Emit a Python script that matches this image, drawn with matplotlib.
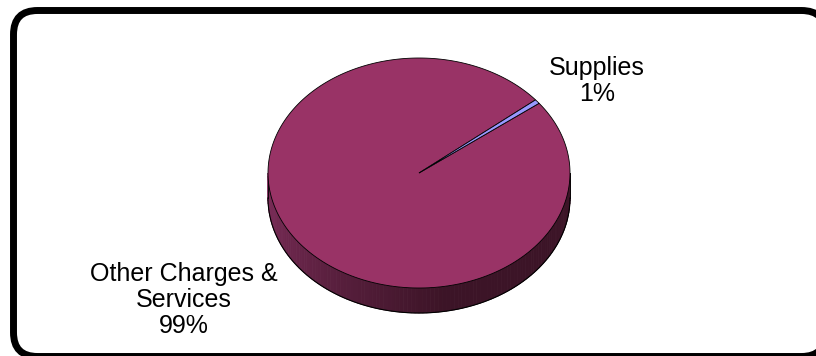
import matplotlib
matplotlib.use("Agg")
import matplotlib.pyplot as plt
import numpy as np
from matplotlib.patches import Polygon, FancyBboxPatch

plt.rcParams['font.family'] = ['Liberation Sans', 'DejaVu Sans']

# data
labels = ["Other Charges &\nServices", "Supplies"]
values = [99.4, 0.6]
colors = ["#993366", "#9999FF"]

fig = plt.figure(figsize=(8.16, 3.56), dpi=100)
ax = fig.add_axes([0, 0, 1, 1])
ax.set_xlim(0, 816)
ax.set_ylim(356, 0)
ax.axis("off")

# rounded frame (runs off the right/bottom edge)
frame = FancyBboxPatch((13.5, 10.5), 812, 346, boxstyle="round,pad=0,rounding_size=24",
                       fc="white", ec="black", lw=5, zorder=0)
ax.add_patch(frame)

# pie geometry (pixels)
cx, cy, a, b, depth = 419, 173, 151, 115, 25

def pt(t):
    return cx + a * np.cos(t), cy - b * np.sin(t)

# side of the disc, shaded left -> right
side_light = np.array([0x80, 0x2e, 0x5c]) / 255
side_dark = np.array([0x3c, 0x14, 0x27]) / 255
ts = np.linspace(np.pi, 2 * np.pi, 121)
for t0, t1 in zip(ts[:-1], ts[1:]):
    x0, y0 = pt(t0)
    x1, y1 = pt(t1)
    f = min(1.0, (0.5 * (t0 + t1) - np.pi) / (0.55 * np.pi))
    c = side_light * (1 - f) + side_dark * f
    ax.add_patch(Polygon([(x0, y0), (x1, y1), (x1, y1 + depth), (x0, y0 + depth)],
                         closed=True, fc=c, ec=c, lw=0.6, zorder=1))
xs = [pt(t)[0] for t in ts]
ys = [pt(t)[1] for t in ts]
ax.plot(xs, np.array(ys) + depth, color="black", lw=0.8, zorder=2)
ax.plot([cx - a, cx - a], [cy, cy + depth], color="black", lw=0.6, zorder=2)
ax.plot([cx + a, cx + a], [cy, cy + depth], color="black", lw=0.6, zorder=2)

# top wedges
mid_supplies = np.deg2rad(38.4)
span = [v / sum(values) * 2 * np.pi for v in values]
start = mid_supplies + span[1] / 2
angles = [start]
for s in span:
    angles.append(angles[-1] + s)
for i, v in enumerate(values):
    tt = np.linspace(angles[i], angles[i + 1], 400)
    poly = [(cx, cy)] + [pt(t) for t in tt]
    ax.add_patch(Polygon(poly, closed=True, fc=colors[i], ec="black", lw=0.6, zorder=3))

# labels
ax.text(597, 81, "%s\n%.0f%%" % (labels[1], values[1]), ha="center", va="center",
        fontsize=18, linespacing=1.1, zorder=5)
ax.text(184, 300, "%s\n%.0f%%" % (labels[0], values[0]), ha="center", va="center",
        fontsize=18, linespacing=1.1, zorder=5)

fig.savefig("out.png", dpi=100)
